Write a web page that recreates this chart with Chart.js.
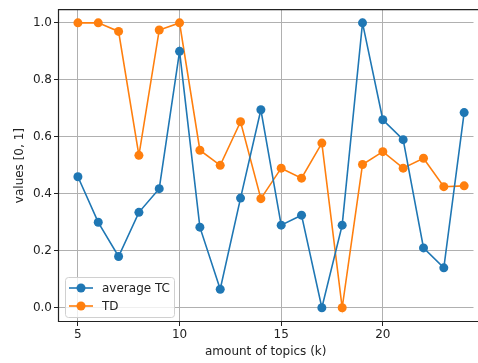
<!DOCTYPE html>
<html>
<head>
<meta charset="utf-8">
<script src="https://cdn.jsdelivr.net/npm/chart.js@4"></script>
<style>
  html, body { margin: 0; padding: 0; background: #fff; }
  #wrap { width: 478px; height: 363px; }
</style>
</head>
<body>
<div id="wrap"><canvas id="chart"></canvas></div>
<script>
const topics = [5, 6, 7, 8, 9, 10, 11, 12, 13, 14, 15, 16, 17, 18, 19, 20, 21, 22, 23, 24];
const avgTC = [0.46, 0.30, 0.18, 0.335, 0.418, 0.90, 0.283, 0.065, 0.385, 0.695, 0.29, 0.325, 0.0, 0.29, 1.0, 0.66, 0.59, 0.21, 0.14, 0.685];
const td = [1.0, 1.0, 0.97, 0.535, 0.975, 1.0, 0.553, 0.50, 0.653, 0.383, 0.49, 0.455, 0.578, 0.0, 0.503, 0.548, 0.49, 0.525, 0.425, 0.428];
const xTicks = [5, 10, 15, 20];
const yTicks = [0.0, 0.2, 0.4, 0.6, 0.8, 1.0];

const FONT = 'DejaVu Sans';
const BLUE = '#1f77b4';
const ORANGE = '#ff7f0e';

function series(label, values, color) {
  return {
    label,
    data: topics.map((t, i) => ({ x: t, y: values[i] })),
    borderColor: color,
    backgroundColor: color,
    borderWidth: 1.6,
    pointRadius: 4.5,
    pointBorderWidth: 0,
    pointHoverRadius: 4.5,
    tension: 0
  };
}

// spines: top, left, bottom (the right one falls outside the picture)
const frame = {
  id: 'frame',
  afterDatasetsDraw(chart) {
    const { ctx, chartArea: a } = chart;
    ctx.save();
    ctx.strokeStyle = '#222';
    ctx.lineWidth = 1.2;
    ctx.beginPath();
    ctx.moveTo(a.right + 8, a.top + 0.5);
    ctx.lineTo(a.left + 0.5, a.top + 0.5);
    ctx.lineTo(a.left + 0.5, a.bottom - 0.5);
    ctx.lineTo(a.right + 8, a.bottom - 0.5);
    ctx.stroke();
    ctx.restore();
  }
};

// legend drawn inside the plot, lower left
const innerLegend = {
  id: 'innerLegend',
  afterDraw(chart) {
    const { ctx, chartArea: a } = chart;
    const x0 = a.left + 7, y0 = a.bottom - 45, w = 109, h = 40;
    ctx.save();
    ctx.fillStyle = 'rgba(255,255,255,0.8)';
    ctx.strokeStyle = '#d0d0d0';
    ctx.lineWidth = 1;
    ctx.beginPath();
    ctx.roundRect(x0 + 0.5, y0 + 0.5, w, h, 3);
    ctx.fill();
    ctx.stroke();
    chart.data.datasets.forEach((ds, i) => {
      const cy = y0 + 11 + i * 18;
      ctx.strokeStyle = ds.borderColor;
      ctx.lineWidth = 1.6;
      ctx.beginPath();
      ctx.moveTo(x0 + 4, cy);
      ctx.lineTo(x0 + 28, cy);
      ctx.stroke();
      ctx.fillStyle = ds.borderColor;
      ctx.beginPath();
      ctx.arc(x0 + 16, cy, 4.5, 0, Math.PI * 2);
      ctx.fill();
      ctx.fillStyle = '#222';
      ctx.font = '12px ' + FONT;
      ctx.textBaseline = 'middle';
      ctx.fillText(ds.label, x0 + 37, cy + 1);
    });
    ctx.restore();
  }
};

new Chart(document.getElementById('chart'), {
  type: 'line',
  data: {
    datasets: [series('average TC', avgTC, BLUE), series('TD', td, ORANGE)]
  },
  options: {
    responsive: true,
    maintainAspectRatio: false,
    animation: false,
    layout: { padding: { top: 7, right: -4, left: 0, bottom: 0 } },
    plugins: { legend: { display: false }, tooltip: { enabled: false } },
    scales: {
      x: {
        type: 'linear',
        min: 4.02,
        max: 24.46,
        afterBuildTicks: s => { s.ticks = xTicks.map(v => ({ value: v })); },
        afterFit: s => { s.height = 41; },
        ticks: { color: '#222', font: { family: FONT, size: 12 }, padding: 2, maxRotation: 0 },
        grid: { color: '#b0b0b0', tickColor: '#222', tickLength: 4, lineWidth: 1 },
        border: { display: false },
        title: { display: true, text: 'amount of topics (k)', color: '#222', font: { family: FONT, size: 12 }, padding: { top: 0, bottom: 4 } }
      },
      y: {
        min: -0.05,
        max: 1.048,
        afterBuildTicks: s => { s.ticks = yTicks.map(v => ({ value: v })); },
        afterFit: s => { s.width = 58; },
        ticks: { color: '#222', font: { family: FONT, size: 12 }, padding: 2, callback: v => v.toFixed(1) },
        grid: { color: '#b0b0b0', tickColor: '#222', tickLength: 4, lineWidth: 1 },
        border: { display: false },
        title: { display: true, text: 'values [0, 1]', color: '#222', font: { family: FONT, size: 12 }, padding: { top: 13, bottom: 0 } }
      }
    }
  },
  plugins: [frame, innerLegend]
});
</script>
</body>
</html>
